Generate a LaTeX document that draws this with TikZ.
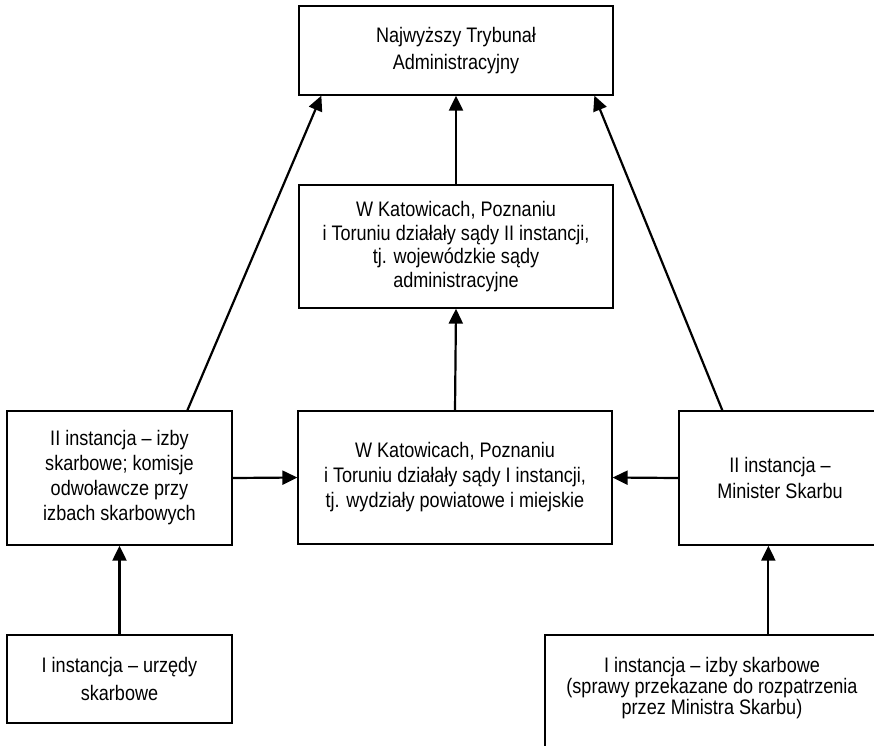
\documentclass[tikz,border=0pt]{standalone}
\usepackage{fontspec}
\setmainfont{Liberation Sans}[FakeStretch=0.86]
\usetikzlibrary{arrows.meta,calc}
\begin{document}
\begin{tikzpicture}[x=1pt,y=-1pt,
  box/.style={draw, line width=1.3pt, rectangle, inner sep=0pt, align=center},
  arr/.style={line width=2.2pt, -{Triangle[length=15pt,width=14pt]}}]
\useasboundingbox (0,0) rectangle (874,745);
\clip (0,0) rectangle (874,745);
\node[box, minimum width=314pt, minimum height=89pt, font=\fontsize{21}{27}\selectfont] (top) at (456,50.5) {Najwyższy Trybunał\\Administracyjny};
\node[box, minimum width=314pt, minimum height=123pt, font=\fontsize{21}{23.5}\selectfont] (midtop) at (456,246.5) {W Katowicach, Poznaniu\\i Toruniu działały sądy II instancji,\\tj. wojewódzkie sądy\\administracyjne};
\node[box, minimum width=225pt, minimum height=134pt, font=\fontsize{21}{25}\selectfont] (left) at (119.5,478) {II instancja – izby\\skarbowe; komisje\\odwoławcze przy\\izbach skarbowych};
\node[box, minimum width=314pt, minimum height=133pt, font=\fontsize{21}{25}\selectfont] (mid) at (455,477.5) {W Katowicach, Poznaniu\\i Toruniu działały sądy I instancji,\\tj. wydziały powiatowe i miejskie};
\node[box, minimum width=202pt, minimum height=134pt, font=\fontsize{21}{26}\selectfont] (right) at (780,478) {II instancja –\\Minister Skarbu};
\node[box, minimum width=225pt, minimum height=88pt, font=\fontsize{21}{28}\selectfont] (botleft) at (119.5,679) {I instancja – urzędy\\skarbowe};
\node[box, minimum width=340pt, minimum height=155pt] (brbox) at (715,712.5) {};
\node[align=center, inner sep=0pt, font=\fontsize{21}{21}\selectfont] (brtext) at (712,688) {I instancja – izby skarbowe\\(sprawy przekazane do rozpatrzenia\\przez Ministra Skarbu)};
\draw[arr] (botleft.north) -- (left.south);
\draw[arr] (left.east) -- (mid.west);
\draw[arr] (right.west) -- (mid.east);
\draw[arr] (mid.north) -- (midtop.south);
\draw[arr] (midtop.north) -- (top.south);
\draw[arr] ($(left.north west)+(181,0)$) -- ($(top.south west)+(23,0)$);
\draw[arr] ($(right.north west)+(44,0)$) -- ($(top.south west)+(296,0)$);
\draw[arr] ($(brbox.north west)+(224,0)$) -- ($(right.south west)+(90,0)$);
\end{tikzpicture}
\end{document}
